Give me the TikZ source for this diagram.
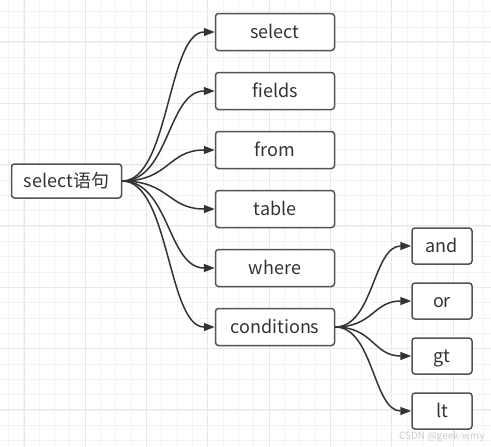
\documentclass[tikz,border=0pt]{standalone}
\usepackage{fontspec}
\setmainfont{Noto Sans CJK SC}
\usetikzlibrary{arrows.meta,positioning}
\definecolor{gridminor}{RGB}{243,243,243}
\definecolor{gridmajor}{RGB}{232,232,232}
\definecolor{boxgray}{RGB}{80,83,89}
\definecolor{linkgray}{RGB}{51,51,51}
\definecolor{textgray}{RGB}{51,51,51}
\tikzset{
  topic/.style={draw=boxgray, line width=1.5pt, rounded corners=3pt, fill=white,
    text=textgray, font=\fontsize{18}{20}\selectfont, inner sep=0pt,
    text height=13.5pt, text depth=1pt},
  rootbox/.style={topic, minimum width=110pt, minimum height=34pt},
  keybox/.style={topic, minimum width=119pt, minimum height=37pt},
  opbox/.style={topic, minimum width=60pt, minimum height=36pt},
  link/.style={draw=linkgray, line width=1.5pt, -{Triangle[length=11pt,width=8pt]}},
}

\begin{document}
\begin{tikzpicture}[x=1pt,y=-1pt]
    \useasboundingbox (0,0) rectangle (491,447);
    % --- background grid ---
    \begin{scope}
        \clip (0,0) rectangle (491,447);
        \fill[white] (0,0) rectangle (491,447);
        \foreach \i in {0,...,33} {
            \draw[gridminor, line width=1pt] (-6.67+15.33*\i,0) -- ++(0,447);
        }
        \foreach \j in {0,...,30} {
            \draw[gridminor, line width=1pt] (0,-3.63+15.33*\j) -- ++(491,0);
        }
        \foreach \i in {0,...,7} {
            \draw[gridmajor, line width=1pt] (24+61.33*\i,0) -- ++(0,447);
            \draw[gridmajor, line width=1pt] (0,41.7+61.33*\i) -- ++(491,0);
        }
    \end{scope}

    % --- root ---
    \node[rootbox] (root) at (66.5,181) {select语句};

    % --- keywords ---
    \foreach \name/\txt/\y in {nselect/select/32, nfields/fields/91, nfrom/from/150,
                               ntable/table/209, nwhere/where/268, ncond/conditions/327} {
        \node[keybox] (\name) at (275,\y) {\txt};
        \draw[link] (root.east) .. controls +(47,0) and +(-47,0) .. (\name.west);
    }

    % --- conditions ---
    \foreach \name/\txt/\y in {nand/and/246, nor/or/301, ngt/gt/356, nlt/lt/411} {
        \node[opbox] (\name) at (442,\y) {\txt};
        \draw[link] (ncond.east) .. controls +(38,0) and +(-38,0) .. (\name.west);
    }

    \node[font=\fontsize{10}{12}\selectfont, text=gray!40, anchor=east] (mark) at (488,437) {CSDN @geek-wmy};
\end{tikzpicture}
\end{document}
